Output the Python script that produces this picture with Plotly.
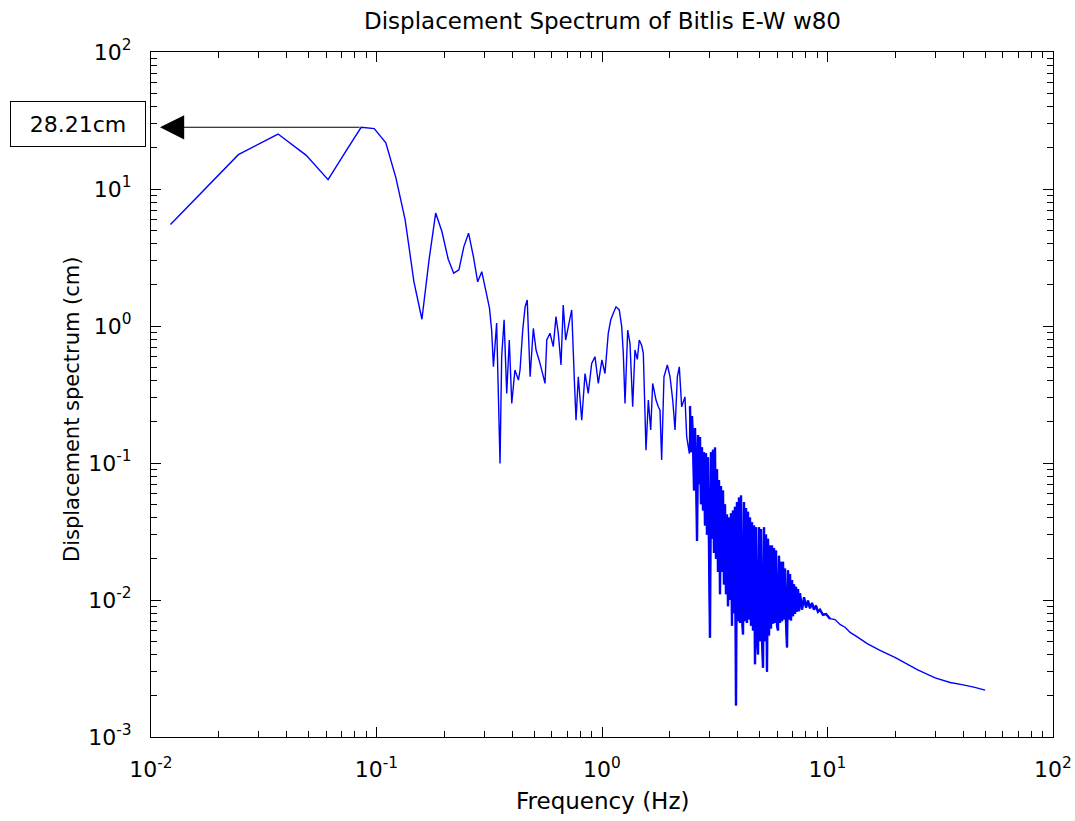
import math
import plotly.graph_objects as go

# ---------------- data ----------------
# low-frequency part (Hz, cm)
freq_low = [0.0122, 0.0244, 0.0366, 0.0488, 0.0610, 0.0733, 0.0855, 0.0977, 0.110, 0.122,
            0.134, 0.1465, 0.159, 0.171, 0.183, 0.195, 0.208, 0.220, 0.232, 0.244,
            0.256, 0.269, 0.281, 0.293, 0.305, 0.317]
amp_low = [5.5, 17.8, 25.2, 17.6, 11.7, 19.0, 28.21, 27.6, 21.7, 12.0,
           5.96, 2.11, 1.12, 3.04, 6.67, 4.89, 3.07, 2.43, 2.57, 3.80,
           4.76, 3.21, 2.10, 2.49, 1.83, 1.35]

# 0.32 - 1.07 Hz
freq_mid = [0.324, 0.330, 0.341, 0.347, 0.353, 0.359, 0.368, 0.378, 0.388, 0.398,
            0.411, 0.426, 0.433, 0.445, 0.456, 0.466, 0.480, 0.496, 0.510, 0.531,
            0.559, 0.569, 0.588, 0.608, 0.625, 0.640, 0.658, 0.673, 0.690, 0.709,
            0.734, 0.754, 0.767, 0.785, 0.813, 0.841, 0.869, 0.900, 0.931, 0.963,
            0.999, 1.031, 1.066]
amp_mid = [0.935, 0.505, 1.05, 0.322, 0.099, 0.597, 1.11, 0.322, 0.79, 0.272,
           0.477, 0.403, 0.477, 0.935, 1.38, 1.55, 0.426, 0.96, 0.668, 0.534,
           0.381, 0.79, 0.885, 0.707, 1.17, 0.885, 0.52, 1.42, 0.79, 0.99,
           1.31, 0.403, 0.205, 0.426, 0.205, 0.45, 0.322, 0.534, 0.597, 0.381,
           0.565, 0.45, 0.885]

# 1.09 - 2.44 Hz
freq_high = [1.093, 1.122, 1.154, 1.193, 1.223, 1.243, 1.265, 1.300, 1.331, 1.368,
             1.400, 1.434, 1.463, 1.500, 1.525, 1.567, 1.605, 1.644, 1.678, 1.736,
             1.777, 1.808, 1.839, 1.883, 1.949, 2.003, 2.059, 2.108, 2.158, 2.202,
             2.256, 2.333, 2.375, 2.44]
amp_high = [1.106, 1.24, 1.38, 1.31, 0.989, 0.631, 0.272, 0.935, 0.747, 0.257,
            0.668, 0.57, 0.79, 0.72, 0.631, 0.124, 0.288, 0.174, 0.381, 0.288,
            0.257, 0.243, 0.105, 0.426, 0.519, 0.426, 0.288, 0.174, 0.426, 0.504,
            0.257, 0.304, 0.155, 0.117]

# 2.46 - 10.3 Hz (dense, strongly oscillating band)
freq_band = [2.456, 2.481, 2.507, 2.533, 2.559, 2.585, 2.612, 2.639, 2.666, 2.693,
             2.720, 2.748, 2.776, 2.805, 2.833, 2.862, 2.892, 2.921, 2.951, 2.982,
             3.012, 3.043, 3.074, 3.106, 3.138, 3.170, 3.203, 3.236, 3.269, 3.302,
             3.336, 3.370, 3.405, 3.440, 3.475, 3.511, 3.547, 3.583, 3.620, 3.657,
             3.694, 3.732, 3.771, 3.809, 3.848, 3.888, 3.928, 3.968, 4.009, 4.050,
             4.093, 4.135, 4.177, 4.220, 4.263, 4.306, 4.351, 4.396, 4.441, 4.486,
             4.532, 4.579, 4.626, 4.673, 4.721, 4.770, 4.819, 4.868, 4.918, 4.969,
             5.019, 5.071, 5.123, 5.176, 5.229, 5.282, 5.336, 5.391, 5.447, 5.503,
             5.559, 5.616, 5.674, 5.732, 5.791, 5.851, 5.911, 5.972, 6.033, 6.095,
             6.157, 6.221, 6.285, 6.349, 6.415, 6.479, 6.546, 6.613, 6.681, 6.750,
             6.820, 6.890, 6.961, 7.032, 7.104, 7.177, 7.251, 7.325, 7.401, 7.477,
             7.551, 7.71, 7.87, 8.03, 8.19, 8.36, 8.54, 8.71, 8.89, 9.07,
             9.26, 9.55, 9.85, 10.26]
amp_band = [0.26, 0.12, 0.22, 0.14, 0.063, 0.18, 0.09, 0.027, 0.16, 0.07,
            0.155, 0.05, 0.13, 0.045, 0.12, 0.035, 0.118, 0.03, 0.11, 0.025,
            0.0053, 0.12, 0.028, 0.125, 0.022, 0.13, 0.02, 0.09, 0.016, 0.075,
            0.011, 0.068, 0.016, 0.063, 0.013, 0.05, 0.011, 0.042, 0.009, 0.04,
            0.01, 0.043, 0.0065, 0.045, 0.008, 0.048, 0.0017, 0.052, 0.007, 0.056,
            0.0068, 0.058, 0.0075, 0.0056, 0.052, 0.007, 0.047, 0.0068, 0.044, 0.0072,
            0.04, 0.0065, 0.037, 0.006, 0.035, 0.0034, 0.034, 0.0055, 0.004, 0.034,
            0.005, 0.033, 0.0052, 0.0032, 0.034, 0.005, 0.03, 0.003, 0.028, 0.0055,
            0.025, 0.0062, 0.025, 0.0067, 0.024, 0.0068, 0.023, 0.0065, 0.006, 0.021,
            0.0068, 0.019, 0.007, 0.019, 0.0072, 0.017, 0.007, 0.0045, 0.0165, 0.0072,
            0.0155, 0.0071, 0.014, 0.0076, 0.013, 0.0079, 0.0125, 0.0082, 0.012, 0.0083,
            0.0112, 0.0085, 0.0105, 0.0088, 0.0099, 0.0087, 0.0095, 0.0085, 0.0091, 0.0082,
            0.0085, 0.0078, 0.0079, 0.0073]

# smooth tail 10.8 - 50 Hz
freq_tail = [10.8, 11.4, 12.0, 12.6, 13.5, 15.0, 17.0, 20.0, 25.0, 30.0, 35.0, 40.0, 45.0, 50.0]
amp_tail = [0.0072, 0.0066, 0.0063, 0.0058, 0.0054, 0.0048, 0.0043, 0.0038, 0.0031, 0.0027,
            0.0025, 0.0024, 0.0023, 0.0022]

peak_freq = 0.0855
peak_value = 28.21
peak_label = "28.21cm"

x_tickvals = [0.01, 0.1, 1, 10, 100]
x_ticktext = ["10<sup>-2</sup>", "10<sup>-1</sup>", "10<sup>0</sup>", "10<sup>1</sup>", "10<sup>2</sup>"]
y_tickvals = [0.001, 0.01, 0.1, 1, 10, 100]
y_ticktext = ["10<sup>-3</sup>", "10<sup>-2</sup>", "10<sup>-1</sup>", "10<sup>0</sup>",
              "10<sup>1</sup>", "10<sup>2</sup>"]

title_text = "Displacement Spectrum of Bitlis E-W w80"
x_title = "Frequency (Hz)"
y_title = "Displacement spectrum (cm)"

# ---------------- figure ----------------
freq = freq_low + freq_mid + freq_high + freq_band + freq_tail
amp = amp_low + amp_mid + amp_high + amp_band + amp_tail

FONT = "DejaVu Sans"
BLUE = "#0000ff"
W, H = 1075, 821
L, R, T, B = 151, 22, 52, 84
pw, ph = W - L - R, H - T - B

fig = go.Figure()
fig.add_trace(go.Scatter(x=freq, y=amp, mode="lines",
                         line=dict(color=BLUE, width=1.4, simplify=False),
                         hoverinfo="x+y"))
# the same dense band drawn again with a heavier stroke so it reads as a solid band
fig.add_trace(go.Scatter(x=freq_band, y=amp_band, mode="lines",
                         line=dict(color=BLUE, width=2.4, simplify=False),
                         hoverinfo="skip"))

x_minor = [m * 10.0 ** e for e in range(-2, 2) for m in range(2, 10)]
y_minor = [m * 10.0 ** e for e in range(-3, 2) for m in range(2, 10)]

axis_common = dict(showgrid=False, zeroline=False, showline=True, linecolor="black",
                   linewidth=1, mirror="allticks", ticks="inside", ticklen=10,
                   tickwidth=1, tickcolor="black", tickmode="array",
                   tickfont=dict(family=FONT, size=22, color="black"))

fig.update_xaxes(type="log", range=[-2, 2], tickvals=x_tickvals, ticktext=x_ticktext,
                 minor=dict(ticks="inside", ticklen=6, tickwidth=1, tickcolor="black",
                            tickmode="array", tickvals=x_minor, showgrid=False),
                 ticklabelstandoff=13, **axis_common)
fig.update_yaxes(type="log", range=[-3, 2], tickvals=y_tickvals, ticktext=y_ticktext,
                 minor=dict(ticks="inside", ticklen=6, tickwidth=1, tickcolor="black",
                            tickmode="array", tickvals=y_minor, showgrid=False),
                 ticklabelstandoff=14, **axis_common)

annotations = [
    dict(text=title_text, xref="paper", yref="paper", x=0.5, y=1 + (T - 21) / ph,
         xanchor="center", yanchor="middle", showarrow=False,
         font=dict(family=FONT, size=23, color="black")),
    dict(text=x_title, xref="paper", yref="paper", x=0.5, y=-(801 - (T + ph)) / ph,
         xanchor="center", yanchor="middle", showarrow=False,
         font=dict(family=FONT, size=23, color="black")),
    dict(text=y_title, xref="paper", yref="paper", x=-(L - 72) / pw, y=1 - (410 - T) / ph,
         xanchor="center", yanchor="middle", textangle=-90, showarrow=False,
         font=dict(family=FONT, size=21, color="black")),
    # arrow pointing from the peak to the left axis
    dict(text="", x=math.log10(0.01096), y=math.log10(peak_value), xref="x", yref="y",
         ax=math.log10(peak_freq), ay=math.log10(peak_value), axref="x", ayref="y",
         showarrow=True, arrowhead=2, arrowsize=4.4, arrowwidth=1.1, arrowcolor="black",
         standoff=0, startstandoff=0),
    # boxed value label
    dict(text=peak_label, xref="paper", yref="paper", x=(78 - L) / pw, y=1 - (124 - T) / ph,
         xanchor="center", yanchor="middle", showarrow=False, width=128, height=38,
         borderpad=3, bordercolor="black", borderwidth=1, bgcolor="white",
         font=dict(family=FONT, size=22, color="black")),
]

fig.update_layout(width=W, height=H, margin=dict(l=L, r=R, t=T, b=B, autoexpand=False),
                  paper_bgcolor="white", plot_bgcolor="white", showlegend=False,
                  annotations=annotations, font=dict(family=FONT, color="black"))

fig.write_html("out.html")
